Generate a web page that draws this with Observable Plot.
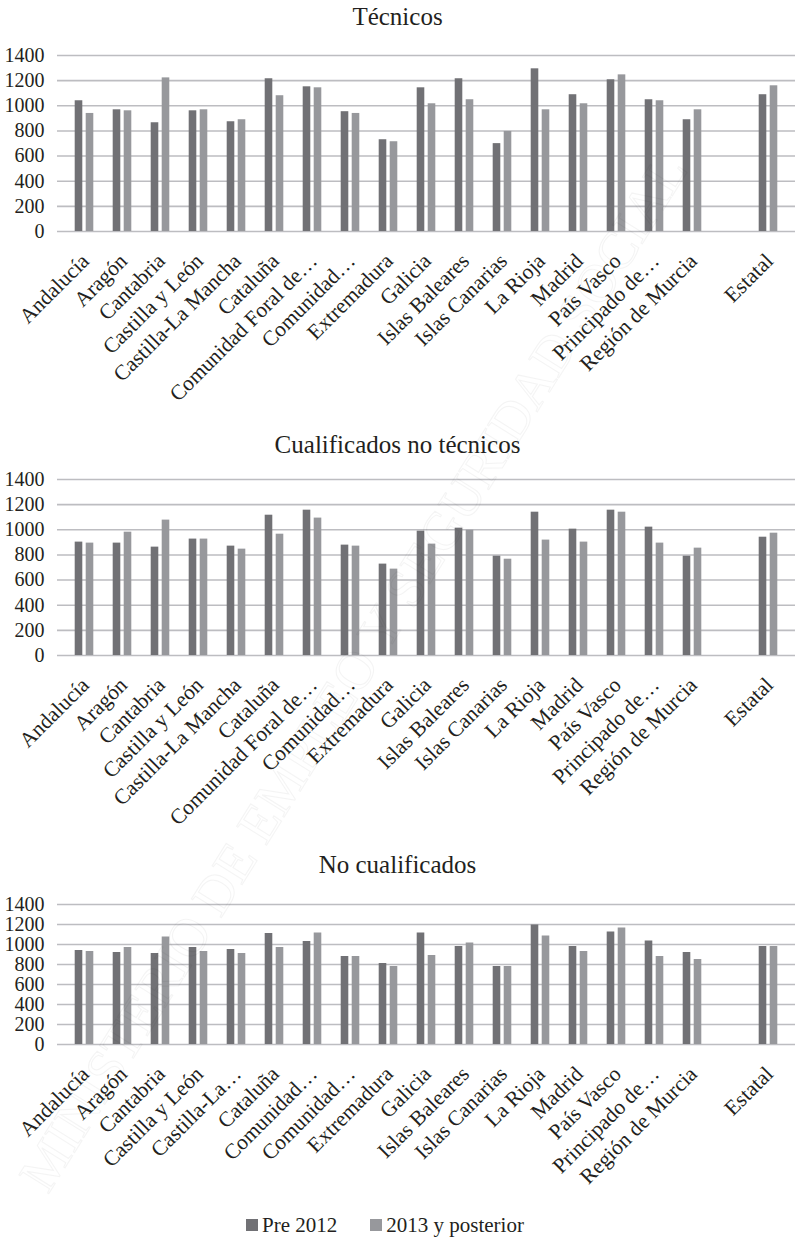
<!DOCTYPE html>
<html>
<head>
<meta charset="utf-8">
<script src="https://cdn.jsdelivr.net/npm/d3@7"></script>
<script src="https://cdn.jsdelivr.net/npm/@observablehq/plot@0.6"></script>
<style>
  html, body { margin: 0; padding: 0; background: #fff; }
  body { width: 795px; height: 1238px; overflow: hidden; position: relative;
         font-family: "Liberation Serif", "Times New Roman", serif; color: #231f20; }
  .title { text-align: center; font-size: 25px; height: 34px; line-height: 34px; }
  svg.chart { display: block; }
  .legend { position: absolute; top: 1212px; left: 246px; font-size: 21px; line-height: 26px;
            display: flex; align-items: center; white-space: nowrap; }
  .legend .sw { display: inline-block; width: 12px; height: 12px; margin-right: 4px; }
  .legend .item { display: flex; align-items: center; margin-right: 33px; }
  #mark { position: absolute; left: 0; top: 0; pointer-events: none; }
</style>
</head>
<body>
<div id="root"></div>
<div class="legend" id="legend"></div>
<script>
// Regions (x categories); the empty slot separates the regions from the national total
const regions = ["Andalucía", "Aragón", "Cantabria", "Castilla y León", "Castilla-La Mancha",
  "Cataluña", "Comunidad Foral de Navarra", "Comunidad Valenciana", "Extremadura", "Galicia",
  "Islas Baleares", "Islas Canarias", "La Rioja", "Madrid", "País Vasco",
  "Principado de Asturias", "Región de Murcia", "", "Estatal"];

// Tick labels as printed under each panel
const labelsTecnicos = ["Andalucía", "Aragón", "Cantabria", "Castilla y León", "Castilla-La Mancha",
  "Cataluña", "Comunidad Foral de…", "Comunidad…", "Extremadura", "Galicia",
  "Islas Baleares", "Islas Canarias", "La Rioja", "Madrid", "País Vasco",
  "Principado de…", "Región de Murcia", "", "Estatal"];
const labelsCualificados = labelsTecnicos;
const labelsNoCualificados = ["Andalucía", "Aragón", "Cantabria", "Castilla y León", "Castilla-La…",
  "Cataluña", "Comunidad…", "Comunidad…", "Extremadura", "Galicia",
  "Islas Baleares", "Islas Canarias", "La Rioja", "Madrid", "País Vasco",
  "Principado de…", "Región de Murcia", "", "Estatal"];

const series = ["Pre 2012", "2013 y posterior"];
const yTicks = [0, 200, 400, 600, 800, 1000, 1200, 1400];

// Técnicos
const tecPre  = [1040, 968, 865, 960, 873, 1215, 1151, 953, 730, 1143, 1215, 699, 1294, 1088, 1207, 1048, 889, null, 1088];
const tecPost = [939, 960, 1222, 968, 889, 1080, 1143, 939, 714, 1016, 1048, 796, 968, 1016, 1246, 1040, 968, null, 1159];

// Cualificados no técnicos
const cuaPre  = [902, 894, 862, 926, 870, 1116, 1156, 878, 727, 989, 1013, 790, 1140, 1005, 1156, 1021, 790, null, 941];
const cuaPost = [894, 981, 1077, 926, 846, 965, 1093, 870, 687, 886, 997, 766, 918, 902, 1140, 894, 854, null, 973];

// No cualificados
const noPre  = [940, 920, 910, 970, 950, 1110, 1030, 880, 810, 1115, 980, 780, 1195, 980, 1125, 1035, 920, null, 980];
const noPost = [930, 970, 1075, 930, 910, 970, 1115, 880, 780, 890, 1015, 780, 1085, 930, 1165, 880, 850, null, 980];

const colors = ["#717175", "#97989c"];
const gridColor = "#bdbdc1";

function panel({title, labels, pre, post, height, marginTop, marginBottom}) {
  const root = document.getElementById("root");
  const t = document.createElement("div");
  t.className = "title";
  t.textContent = title;
  root.appendChild(t);

  const rows = regions.map((r, i) => ({region: r, pre: pre[i], post: post[i]}));
  const labelOf = new Map(regions.map((r, i) => [r, labels[i]]));

  const chart = Plot.plot({
    width: 795,
    height,
    marginLeft: 57,
    marginRight: 0,
    marginTop,
    marginBottom,
    style: {fontFamily: "'Liberation Serif', 'Times New Roman', serif", fontSize: "20px", color: "#231f20", background: "transparent"},
    x: {domain: regions, padding: 0, label: null},
    y: {domain: [0, 1400], label: null},
    marks: [
      Plot.ruleY(yTicks, {stroke: gridColor, strokeWidth: 1.6}),
      Plot.barY(rows.filter(d => d.pre != null), {x: "region", y: "pre", fill: colors[0], insetLeft: 9.7, insetRight: 20.7}),
      Plot.barY(rows.filter(d => d.post != null), {x: "region", y: "post", fill: colors[1], insetLeft: 20.7, insetRight: 9.7}),
      Plot.axisY({ticks: yTicks, tickSize: 0, tickPadding: 13, fontSize: 20, tickFormat: d => String(d)}),
      Plot.axisX({tickRotate: -45, tickSize: 0, tickPadding: 26, dx: 1, fontSize: 21.5,
                  textAnchor: "end", lineAnchor: "middle",
                  tickFormat: d => labelOf.get(d)})
    ]
  });
  chart.classList.add("chart");
  root.appendChild(chart);
}

panel({title: "Técnicos", labels: labelsTecnicos, pre: tecPre, post: tecPost,
       height: 394, marginTop: 21, marginBottom: 197});
panel({title: "Cualificados no técnicos", labels: labelsCualificados, pre: cuaPre, post: cuaPost,
       height: 386, marginTop: 17, marginBottom: 193});
panel({title: "No cualificados", labels: labelsNoCualificados, pre: noPre, post: noPost,
       height: 330, marginTop: 22, marginBottom: 168});

// Legend
const legend = document.getElementById("legend");
series.forEach((s, i) => {
  const item = document.createElement("span");
  item.className = "item";
  const sw = document.createElement("span");
  sw.className = "sw";
  sw.style.background = colors[i];
  item.appendChild(sw);
  item.appendChild(document.createTextNode(s));
  legend.appendChild(item);
});

// Faint diagonal watermark across the page
const ns = "http://www.w3.org/2000/svg";
const wm = document.createElementNS(ns, "svg");
wm.setAttribute("id", "mark");
wm.setAttribute("width", 795);
wm.setAttribute("height", 1238);
const txt = document.createElementNS(ns, "text");
txt.setAttribute("transform", "translate(48,1195) rotate(-58)");
txt.setAttribute("font-family", "'Liberation Serif', serif");
txt.setAttribute("font-size", 54);
txt.setAttribute("fill", "none");
txt.setAttribute("stroke", "rgba(0,0,0,0.045)");
txt.setAttribute("stroke-width", 1.2);
txt.textContent = "MINISTERIO DE EMPLEO Y SEGURIDAD SOCIAL";
wm.appendChild(txt);
document.body.appendChild(wm);
</script>
</body>
</html>
